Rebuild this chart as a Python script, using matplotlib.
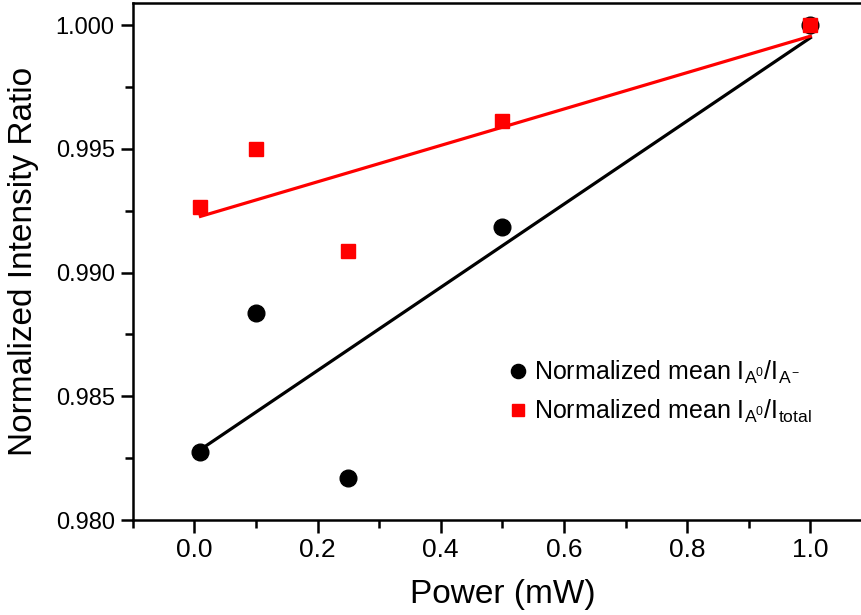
import numpy as np
import matplotlib.pyplot as plt
from matplotlib.ticker import MultipleLocator

plt.rcParams['font.family'] = ['Liberation Sans', 'DejaVu Sans']
plt.rcParams['mathtext.fontset'] = 'custom'
plt.rcParams['mathtext.rm'] = 'Liberation Sans'
plt.rcParams['mathtext.it'] = 'Liberation Sans'

# DATA
power = [0.01, 0.1, 0.25, 0.5, 1.0]
ratio_minus = [0.98274, 0.98838, 0.98168, 0.99185, 1.0]
ratio_total = [0.99266, 0.99499, 0.99087, 0.99613, 1.0]
xtick_labels = ['0.0', '0.2', '0.4', '0.6', '0.8', '1.0']

# LINEAR FITS
fit_minus = np.polyfit(power, ratio_minus, 1)
fit_total = np.polyfit(power, ratio_total, 1)
xfit = np.array([power[0], power[-1]])

fig = plt.figure(figsize=(8.61, 6.15), dpi=100)
ax = fig.add_axes([132.7/861, 1 - 520/615, (872 - 132.7)/861, (520 - 3)/615])

ax.plot(xfit, np.polyval(fit_minus, xfit), color='black', lw=2.3, zorder=2)
ax.plot(xfit, np.polyval(fit_total, xfit), color='red', lw=2.3, zorder=2)
ax.plot(power, ratio_minus, 'o', color='black', ms=12, ls='none', zorder=3,
        label=r'Normalized mean I$_{\mathrm{A^0}}$/I$_{\mathrm{A^-}}$')
ax.plot(power, ratio_total, 's', color='red', ms=10, ls='none', zorder=3,
        label=r'Normalized mean I$_{\mathrm{A^0}}$/I$_{\mathrm{total}}$')

ax.set_xlim(-0.1, 1.1)
ax.set_ylim(0.980, 1.00089)
ax.xaxis.set_minor_locator(MultipleLocator(0.1))
ax.yaxis.set_major_locator(MultipleLocator(0.005))
ax.yaxis.set_minor_locator(MultipleLocator(0.0025))
ax.set_xticks(np.arange(0, 1.01, 0.2))
ax.set_xticklabels(xtick_labels, family=['Liberation Sans Narrow', 'Liberation Sans'], fontsize=19)
ax.yaxis.set_major_formatter(plt.FormatStrFormatter('%.3f'))

ax.tick_params(which='major', direction='out', length=9, width=1.8, pad=4)
ax.tick_params(axis='y', which='major', labelsize=17)
ax.tick_params(which='minor', direction='out', length=6, width=1.8)
for s in ax.spines.values():
    s.set_linewidth(1.8)

ax.set_xlabel('Power (mW)', fontsize=24, labelpad=12)
ax.set_ylabel('Normalized Intensity Ratio', fontsize=24, labelpad=12)

ax.legend(loc='upper left', bbox_to_anchor=(0.47, 0.355), frameon=False, fontsize=18,
          handletextpad=0.05, handlelength=1.2, labelspacing=0.45, markerscale=0.85)

fig.savefig('out.png', dpi=100)
